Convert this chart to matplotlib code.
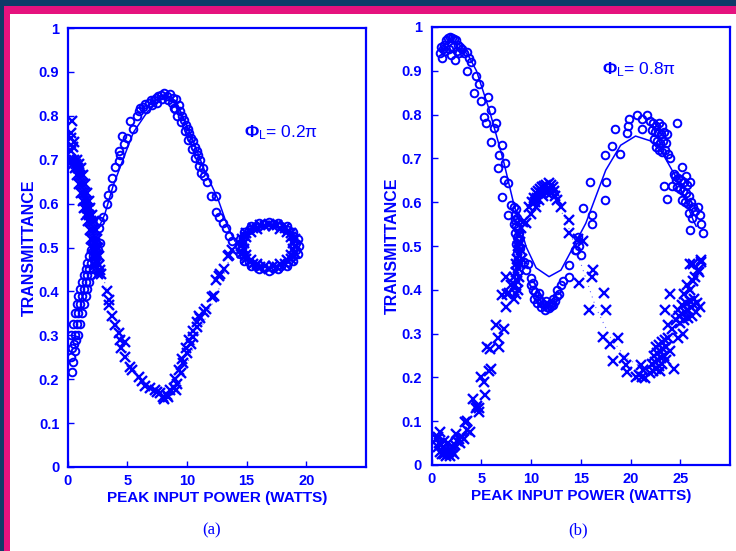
import matplotlib
matplotlib.use('Agg')
import matplotlib.pyplot as plt
from matplotlib.patches import Rectangle

blue = '#0000ff'

# ---- panel (a), phi_L = 0.2 pi ----
# circles: rising band near the origin, big hump, then ring around 17 W
a_circ_x = [0.34, 0.3, 0.5, 0.6, 0.35, 0.45, 0.7,
            0.3, 0.45, 0.6, 0.75, 0.9, 1.05, 1.2, 1.35, 1.5, 1.65, 1.8, 1.95, 2.1,
            0.9, 1.05, 1.2, 1.35, 1.5, 1.65, 1.8, 1.95, 2.1, 2.25, 2.4, 2.55, 2.7,
            0.6, 0.75, 0.9, 1.05, 1.2, 1.35, 1.5, 1.65, 1.8, 1.95, 2.1, 2.25, 2.4,
            2.6, 2.72, 3.0, 3.29, 3.4, 3.7, 3.7, 3.98, 4.26, 4.4, 4.26, 4.7, 4.55, 4.98,
            5.25, 5.5, 5.8, 6.1, 6.3, 6.5, 6.8, 7.0, 7.2, 7.4, 7.6, 7.8, 8.06, 8.3, 8.6,
            8.8, 9.04, 8.9, 9.3, 9.45, 9.6, 9.75, 9.9, 10.05, 10.2, 10.35, 10.5, 10.65,
            10.8, 10.95, 11.1, 11.3, 11.4, 11.7, 12.0, 12.4, 12.4, 12.7, 13.0, 13.3, 13.5, 13.8,
            8.4, 8.7, 9.0, 9.2, 9.5, 9.8, 10.1, 10.4, 10.7, 11.0, 11.2,
            6.0, 6.6, 7.1, 7.5, 7.9,
            19.38, 19.26, 18.90, 18.34, 17.63, 16.85, 16.07, 15.36, 14.80, 14.44,
            14.32, 14.44, 14.80, 15.36, 16.07, 16.85, 17.63, 18.34, 18.90, 19.26,
            19.14, 18.92, 18.49, 17.90, 17.21, 16.49, 15.80, 15.21, 14.78, 14.56,
            14.56, 14.78, 15.21, 15.80, 16.49, 17.21, 17.90, 18.49, 18.92, 19.14]
a_circ_y = [0.217, 0.25, 0.28, 0.265, 0.27, 0.24, 0.29,
            0.30, 0.325, 0.35, 0.372, 0.39, 0.405, 0.422, 0.438, 0.45, 0.465, 0.48, 0.495, 0.51,
            0.30, 0.325, 0.35, 0.372, 0.39, 0.405, 0.422, 0.438, 0.45, 0.465, 0.48, 0.495, 0.51,
            0.30, 0.325, 0.35, 0.372, 0.39, 0.405, 0.422, 0.438, 0.45, 0.465, 0.48, 0.495, 0.51,
            0.545, 0.561, 0.57, 0.6, 0.62, 0.635, 0.659, 0.683, 0.698, 0.71, 0.72, 0.735, 0.754, 0.75,
            0.789, 0.77, 0.8, 0.818, 0.82, 0.826, 0.83, 0.835, 0.836, 0.84, 0.845, 0.848, 0.853, 0.845, 0.85,
            0.84, 0.838, 0.818, 0.824, 0.81, 0.8, 0.79, 0.78, 0.77, 0.76, 0.75, 0.743, 0.73,
            0.72, 0.71, 0.7, 0.68, 0.664, 0.65, 0.617, 0.617, 0.58, 0.57, 0.556, 0.545, 0.527, 0.515,
            0.835, 0.83, 0.815, 0.8, 0.785, 0.765, 0.745, 0.725, 0.705, 0.685, 0.67,
            0.81, 0.815, 0.825, 0.83, 0.838,
            0.503, 0.520, 0.536, 0.548, 0.556, 0.559, 0.556, 0.548, 0.536, 0.520,
            0.503, 0.486, 0.470, 0.458, 0.450, 0.447, 0.450, 0.458, 0.470, 0.486,
            0.511, 0.526, 0.539, 0.548, 0.553, 0.553, 0.548, 0.539, 0.526, 0.511,
            0.495, 0.480, 0.467, 0.458, 0.453, 0.453, 0.458, 0.467, 0.480, 0.495]

# crosses: falling band, dip near 8 W, then ring
a_cross_x = [0.34, 0.3, 0.45, 0.3, 0.35, 0.5, 0.25,
             0.25, 0.45, 0.65, 0.8, 0.95, 1.1, 1.25, 1.4, 1.55, 1.7, 1.85, 1.95, 2.05, 2.15, 2.25,
             0.75, 0.95, 1.15, 1.3, 1.45, 1.6, 1.75, 1.9, 2.05, 2.2, 2.35, 2.45, 2.55, 2.65,
             0.5, 0.7, 0.9, 1.05, 1.2, 1.35, 1.5, 1.65, 1.8, 1.95, 2.1, 2.2, 2.3, 2.4,
             2.35, 2.25, 2.6, 2.5,
             2.72, 2.8, 3.29, 3.42, 3.5, 3.7, 3.98, 4.26, 4.4, 4.5, 4.8, 4.8, 5.25, 5.4, 5.95,
             6.2, 6.5, 6.9, 7.3, 7.7, 8.0, 8.06, 8.3, 8.6, 8.9, 9.2, 9.46, 9.7, 10.0, 10.3,
             10.5, 10.8, 11.1, 11.4, 11.6, 12.1, 12.3, 12.4, 12.7, 12.8, 13.1, 13.4, 13.5, 13.8,
             9.0, 9.3, 9.6, 9.9, 10.2, 10.5, 10.8, 11.0, 9.1, 8.4, 7.5,
             18.92, 18.72, 18.34, 17.80, 17.18, 16.52, 15.90, 15.37, 14.98, 14.78,
             14.78, 14.98, 15.37, 15.90, 16.52, 17.18, 17.80, 18.34, 18.72, 18.92,
             19.17, 19.06, 18.73, 18.21, 17.57, 16.85, 16.13, 15.49, 14.97, 14.64,
             14.53, 14.64, 14.97, 15.49, 16.13, 16.85, 17.57, 18.21, 18.73, 19.06]
a_cross_y = [0.789, 0.75, 0.73, 0.72, 0.698, 0.74, 0.76,
             0.70, 0.69, 0.68, 0.665, 0.645, 0.625, 0.605, 0.59, 0.575, 0.56, 0.54, 0.52, 0.50, 0.48, 0.46,
             0.70, 0.69, 0.68, 0.665, 0.645, 0.625, 0.605, 0.59, 0.575, 0.56, 0.54, 0.52, 0.50, 0.48,
             0.70, 0.69, 0.68, 0.665, 0.645, 0.625, 0.605, 0.59, 0.575, 0.56, 0.54, 0.52, 0.50, 0.48,
             0.47, 0.51, 0.46, 0.44,
             0.448, 0.44, 0.402, 0.38, 0.37, 0.345, 0.323, 0.305, 0.29, 0.27, 0.285, 0.25, 0.228, 0.22, 0.205,
             0.195, 0.185, 0.18, 0.175, 0.169, 0.16, 0.156, 0.165, 0.175, 0.18, 0.19, 0.213, 0.236, 0.26, 0.28,
             0.297, 0.32, 0.339, 0.354, 0.36, 0.387, 0.39, 0.425, 0.436, 0.44, 0.452, 0.48, 0.482, 0.495,
             0.2, 0.22, 0.245, 0.27, 0.29, 0.31, 0.33, 0.345, 0.175, 0.16, 0.17,
             0.510, 0.523, 0.535, 0.543, 0.548, 0.548, 0.543, 0.535, 0.523, 0.510,
             0.496, 0.483, 0.471, 0.463, 0.458, 0.458, 0.463, 0.471, 0.483, 0.496,
             0.503, 0.519, 0.533, 0.544, 0.551, 0.554, 0.551, 0.544, 0.533, 0.519,
             0.503, 0.487, 0.473, 0.462, 0.455, 0.452, 0.455, 0.462, 0.473, 0.487]

a_fit_x = [2.6, 3.1, 3.8, 4.7, 5.5, 6.7, 7.8, 8.3, 9.2, 10.3, 11.4, 12.6, 13.4, 14.0]
a_fit_y = [0.545, 0.575, 0.64, 0.705, 0.762, 0.81, 0.837, 0.84, 0.826, 0.758, 0.68, 0.61, 0.548, 0.515]
a_dot_x = [2.6, 3.5, 4.5, 5.5, 6.5, 7.5, 8.3, 9.2, 10.3, 11.4, 12.6, 13.5, 14.0]
a_dot_y = [0.47, 0.38, 0.29, 0.225, 0.19, 0.168, 0.163, 0.18, 0.255, 0.33, 0.4, 0.47, 0.49]

# ---- panel (b), phi_L = 0.8 pi ----
b_circ_x = [1.0, 0.8, 0.9, 1.2, 1.4, 1.6, 1.8, 2.0, 2.2, 2.4, 2.6, 2.8, 3.0, 1.3, 1.7, 2.1, 2.5,
            1.9, 2.3, 3.2, 3.5, 3.8, 3.6, 4.0, 1.1, 2.7,
            4.3, 4.5, 5.3, 5.7, 6.0, 6.0, 6.5, 6.7, 6.8, 7.1, 7.4, 7.1, 7.7, 7.7, 8.0, 4.8, 5.0, 5.5, 6.3, 7.3,
            8.3, 8.5, 8.4, 8.6, 8.3, 8.5, 8.7, 8.4, 8.6, 8.8, 8.5, 8.7, 8.9, 8.6, 8.4, 8.8,
            9.3, 9.5, 10.0, 9.7,
            10.0, 10.2, 10.4, 10.3, 10.6, 10.8, 10.6, 11.0, 11.2, 11.0, 11.4, 11.6, 11.4, 11.8, 12.0,
            12.2, 12.0, 12.4, 12.6, 12.8, 12.6, 13.0, 10.2, 10.8, 11.5, 12.2,
            13.2, 13.8, 13.8, 14.7, 14.8, 14.4, 15.0, 14.5,
            15.2, 15.9, 16.1, 16.1, 17.4, 17.5, 17.4, 18.1, 18.9, 18.4, 19.7, 19.6, 19.8, 20.6, 21.2,
            21.7, 21.2,
            22.0, 22.3, 22.6, 22.9, 23.2, 22.2, 22.5, 22.8, 23.1, 23.4, 22.4, 22.7, 23.0, 23.3, 23.6,
            22.6, 22.9, 23.2, 23.5, 23.8, 24.0, 24.7, 23.7,
            23.4, 23.7, 24.2, 25.2, 24.4, 24.6,
            24.5, 24.8, 25.1, 25.4, 25.7, 24.7, 25.0, 25.3, 25.6, 25.9, 25.2, 25.5, 25.8, 26.1, 26.3,
            25.9, 26.2, 25.6, 26.0,
            26.0, 27.0, 27.3, 27.1, 26.8, 26.5]
b_circ_y = [0.929, 0.94, 0.955, 0.96, 0.97, 0.975, 0.978, 0.975, 0.972, 0.97, 0.96, 0.955, 0.95, 0.945,
            0.95, 0.955, 0.945, 0.935, 0.925, 0.94, 0.944, 0.93, 0.9, 0.92, 0.95, 0.94,
            0.849, 0.889, 0.795, 0.841, 0.81, 0.738, 0.78, 0.677, 0.708, 0.73, 0.69, 0.613, 0.571, 0.643,
            0.594, 0.87, 0.83, 0.78, 0.77, 0.65,
            0.59, 0.585, 0.57, 0.565, 0.55, 0.545, 0.54, 0.53, 0.52, 0.515, 0.505, 0.5, 0.495, 0.485, 0.56, 0.53,
            0.464, 0.446, 0.426, 0.46,
            0.41, 0.4, 0.395, 0.38, 0.385, 0.378, 0.37, 0.372, 0.368, 0.36, 0.365, 0.36, 0.355, 0.358, 0.362,
            0.365, 0.37, 0.375, 0.385, 0.39, 0.4, 0.41, 0.415, 0.392, 0.375, 0.38,
            0.42, 0.457, 0.43, 0.52, 0.5, 0.49, 0.48, 0.49,
            0.586, 0.645, 0.57, 0.55, 0.605, 0.645, 0.708, 0.728, 0.711, 0.767, 0.774, 0.758, 0.789, 0.799,
            0.789, 0.799, 0.768,
            0.785, 0.78, 0.775, 0.78, 0.775, 0.765, 0.76, 0.76, 0.755, 0.76, 0.745, 0.74, 0.735, 0.74, 0.735,
            0.725, 0.72, 0.715, 0.72, 0.71, 0.70, 0.78, 0.755,
            0.637, 0.607, 0.637, 0.68, 0.665, 0.65,
            0.66, 0.655, 0.65, 0.645, 0.64, 0.635, 0.63, 0.625, 0.62, 0.615, 0.605, 0.6, 0.595, 0.6, 0.59,
            0.575, 0.565, 0.66, 0.645,
            0.537, 0.57, 0.53, 0.55, 0.59, 0.58]

b_cross_x = [0.5, 0.7, 0.9, 1.1, 1.3, 1.5, 1.7, 1.9, 2.1, 2.3, 0.6, 0.8, 1.0, 1.2, 1.4, 1.6, 1.8, 2.0,
             2.2, 2.5, 0.8, 0.6, 1.2, 1.6, 2.4, 2.7, 3.0, 2.8,
             3.3, 3.6, 3.9, 4.2, 4.5, 4.8, 4.6, 5.0, 5.3, 5.4, 6.0, 5.6, 6.5, 6.7, 6.8, 7.3, 7.5, 7.6,
             7.5, 8.0, 5.9, 3.2, 3.5, 4.8, 5.8, 7.1, 7.8,
             8.3, 8.5, 8.7, 8.4, 8.6, 8.8, 8.5, 8.7, 8.9, 8.6, 8.8, 9.0, 8.7, 8.9, 8.5, 8.3, 9.1, 8.8, 9.0, 9.2,
             9.5, 10.0, 10.5, 9.8, 10.1, 10.3, 10.5, 10.7, 10.9, 11.1, 11.3, 11.5, 11.8, 12.0, 12.2,
             10.4, 10.8, 11.2, 11.6, 12.0, 12.4, 12.6, 12.3, 10.6, 11.0, 11.4, 11.8,
             13.0, 13.8, 13.8, 14.7, 15.2, 16.2, 14.8, 16.1, 15.8, 17.3, 17.5, 17.2, 17.9, 18.7, 18.2,
             19.3, 19.5, 19.6, 20.5, 20.8, 21.2, 21.3, 21.0, 21.5,
             22.0, 22.3, 22.6, 22.9, 23.2, 22.2, 22.5, 22.8, 23.1, 23.4, 22.4, 22.7, 23.0, 23.3, 23.6,
             22.6, 22.9, 23.2, 23.5, 23.8, 23.0, 23.6, 24.0, 24.4,
             24.0, 23.5, 23.8, 24.2, 24.8, 25.3,
             24.6, 24.9, 25.2, 25.5, 25.8, 26.1, 26.4, 26.7, 25.0, 25.4, 25.8, 26.2, 26.6, 27.0,
             24.8, 25.2, 25.6, 26.0, 26.4,
             25.4, 26.0, 26.3, 26.9, 26.3, 27.1, 26.0, 27.1, 26.8, 26.5, 25.7]
b_cross_y = [0.06, 0.05, 0.045, 0.04, 0.035, 0.03, 0.03, 0.035, 0.04, 0.045, 0.04, 0.03, 0.025, 0.025,
             0.02, 0.025, 0.02, 0.03, 0.025, 0.055, 0.076, 0.065, 0.055, 0.05, 0.07, 0.06, 0.065, 0.05,
             0.099, 0.08, 0.076, 0.15, 0.13, 0.12, 0.135, 0.2, 0.19, 0.16, 0.22, 0.27, 0.32, 0.29, 0.27,
             0.31, 0.36, 0.39, 0.43, 0.41, 0.265, 0.06, 0.10, 0.13, 0.215, 0.388, 0.392,
             0.38, 0.39, 0.4, 0.41, 0.42, 0.43, 0.44, 0.45, 0.46, 0.47, 0.48, 0.49, 0.5, 0.51, 0.46, 0.43,
             0.47, 0.525, 0.54, 0.555,
             0.552, 0.574, 0.589, 0.59, 0.6, 0.61, 0.62, 0.625, 0.63, 0.635, 0.638, 0.64, 0.643, 0.64, 0.635,
             0.6, 0.605, 0.615, 0.62, 0.62, 0.615, 0.605, 0.625, 0.61, 0.62, 0.625, 0.63,
             0.59, 0.56, 0.53, 0.517, 0.511, 0.445, 0.415, 0.43, 0.354, 0.392, 0.354, 0.293, 0.276, 0.29,
             0.238, 0.244, 0.229, 0.213, 0.202, 0.206, 0.2, 0.217, 0.229, 0.198,
             0.21, 0.215, 0.22, 0.225, 0.23, 0.23, 0.235, 0.24, 0.245, 0.25, 0.25, 0.255, 0.26, 0.265, 0.27,
             0.27, 0.275, 0.28, 0.285, 0.29, 0.215, 0.24, 0.26, 0.22,
             0.39, 0.354, 0.32, 0.31, 0.29, 0.3,
             0.33, 0.34, 0.345, 0.35, 0.355, 0.36, 0.365, 0.37, 0.325, 0.33, 0.335, 0.34, 0.35, 0.36,
             0.355, 0.365, 0.37, 0.375, 0.38,
             0.39, 0.4, 0.42, 0.44, 0.46, 0.464, 0.46, 0.468, 0.445, 0.43, 0.41]

b_fit_x = [1.0, 1.5, 2.0, 2.5, 3.0, 3.8, 4.5, 5.8, 7.2, 8.2, 9.5, 10.5, 11.8, 13.0, 13.8, 15.5,
           17.5, 19.0, 20.5, 22.0, 23.2, 24.5, 25.5, 26.3, 26.6]
b_fit_y = [0.95, 0.965, 0.97, 0.965, 0.955, 0.93, 0.9, 0.81, 0.696, 0.601, 0.498, 0.45, 0.43, 0.445,
           0.479, 0.552, 0.673, 0.73, 0.751, 0.74, 0.712, 0.66, 0.605, 0.559, 0.545]
b_dot_x = [9.0, 10.5, 12.0, 13.5, 15.0, 16.5, 18.0, 19.5, 21.0, 22.5, 24.0, 25.5, 27.0]
b_dot_y = [0.52, 0.6, 0.62, 0.56, 0.46, 0.36, 0.29, 0.245, 0.225, 0.235, 0.28, 0.35, 0.44]

yticks = [0, 0.1, 0.2, 0.3, 0.4, 0.5, 0.6, 0.7, 0.8, 0.9, 1]
ytick_labels = ['0', '0.1', '0.2', '0.3', '0.4', '0.5', '0.6', '0.7', '0.8', '0.9', '1']

plt.rcParams['font.family'] = ['Liberation Sans', 'DejaVu Sans']
plt.rcParams['mathtext.fontset'] = 'custom'
plt.rcParams['mathtext.rm'] = 'Liberation Sans'
plt.rcParams['mathtext.bf'] = 'Liberation Sans:bold'
plt.rcParams['mathtext.it'] = 'Liberation Sans:italic'

fig = plt.figure(figsize=(7.36, 5.51), dpi=100)
fig.patch.set_facecolor('#0e3b68')
fig.patches.append(Rectangle((4 / 736, 0), 1, 545 / 551, transform=fig.transFigure,
                             facecolor='#e5127e', edgecolor='none', zorder=-3))
fig.patches.append(Rectangle((10 / 736, 0), 1, 537 / 551, transform=fig.transFigure,
                             facecolor='white', edgecolor='none', zorder=-2))

ax1 = fig.add_axes([67.7 / 736, 1 - 467 / 551, 298.3 / 736, 439 / 551])
ax2 = fig.add_axes([431.7 / 736, 1 - 465 / 551, 298.3 / 736, 438 / 551])

panels = [
    (ax1, a_circ_x, a_circ_y, a_cross_x, a_cross_y, a_fit_x, a_fit_y, a_dot_x, a_dot_y,
     25, [0, 5, 10, 15, 20], 14.8, 0.762, '0.2π', 6, 1),
    (ax2, b_circ_x, b_circ_y, b_cross_x, b_cross_y, b_fit_x, b_fit_y, b_dot_x, b_dot_y,
     30, [0, 5, 10, 15, 20, 25], 17.1, 0.902, '0.8π', 7, 1),
]

for ax, cx, cy, xx, xy, fx, fy, dx, dy, xmax, xt, tx, ty, phase, ypad, lpad in panels:
    ax.plot(fx, fy, color=blue, lw=1.1, zorder=3)
    ax.plot(dx, dy, color=blue, lw=0.8, ls=(0, (1, 4)), alpha=0.6, zorder=2)
    ax.plot(cx, cy, 'o', mfc='none', mec=blue, ms=5.5, mew=1.4, zorder=4)
    ax.plot(xx, xy, 'x', color=blue, ms=6.5, mew=1.7, zorder=4)
    ax.set_xlim(0, xmax)
    ax.set_ylim(0, 1)
    ax.set_xticks(xt)
    ax.set_xticklabels([str(v) for v in xt])
    ax.set_yticks(yticks)
    ax.set_yticklabels(ytick_labels)
    ax.tick_params(direction='in', length=4, width=1, color=blue, labelcolor=blue,
                   labelsize=10.5, pad=5)
    ax.tick_params(axis='y', pad=ypad)
    for lab in ax.get_xticklabels() + ax.get_yticklabels():
        lab.set_fontweight('bold')
    for sp in ax.spines.values():
        sp.set_color(blue)
        sp.set_linewidth(1.6)
    ax.set_xlabel('PEAK INPUT POWER (WATTS)', color=blue, fontsize=11, fontweight='bold', labelpad=2)
    ax.set_ylabel('TRANSMITTANCE', color=blue, fontsize=11.5, fontweight='bold', labelpad=lpad)
    ax.text(tx, ty, r'$\mathbf{\Phi}_{\mathrm{L}}$= ' + phase, color=blue, fontsize=12.5,
            ha='left', va='center')

fig.text(212 / 736, 1 - 530 / 551, '(a)', color=blue, fontsize=12, family='Liberation Serif',
         ha='center', va='center')
fig.text(578 / 736, 1 - 530 / 551, '(b)', color=blue, fontsize=12, family='Liberation Serif',
         ha='center', va='center')

fig.savefig('out.png', dpi=100, facecolor=fig.get_facecolor())
